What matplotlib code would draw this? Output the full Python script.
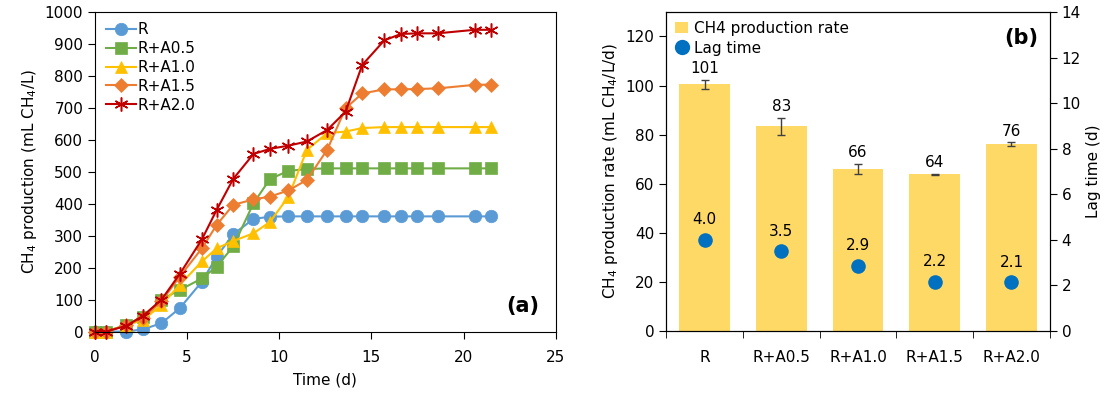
import numpy as np
import matplotlib.pyplot as plt
from matplotlib.patches import Patch
from matplotlib.lines import Line2D

plt.rcParams['font.family'] = ['DejaVu Sans']
plt.rcParams['font.size'] = 11

# (a) cumulative CH4 production
days = [0, 0.6, 1.7, 2.6, 3.6, 4.6, 5.8, 6.6, 7.5, 8.6, 9.5, 10.5, 11.5,
        12.6, 13.6, 14.5, 15.7, 16.6, 17.5, 18.6, 20.6, 21.5]
r_0 = [0, 0, 0, 7, 26, 73, 156, 234, 304, 352, 359, 360, 360,
       360, 360, 360, 360, 360, 360, 360, 360, 360]
r_a05 = [0, 0, 21, 47, 100, 130, 166, 203, 266, 401, 477, 502, 508,
         510, 510, 510, 510, 510, 510, 510, 510, 510]
r_a10 = [0, 0, 20, 36, 83, 146, 219, 260, 283, 307, 343, 422, 568,
         620, 625, 636, 639, 639, 639, 639, 639, 639]
r_a15 = [0, 0, 20, 42, 94, 172, 260, 333, 396, 413, 422, 441, 474,
         568, 698, 744, 757, 757, 758, 760, 771, 772]
r_a20 = [0, 0, 18, 49, 99, 180, 288, 380, 477, 555, 571, 581, 594,
         630, 687, 833, 910, 930, 932, 932, 943, 943]
series_names = ['R', 'R+A0.5', 'R+A1.0', 'R+A1.5', 'R+A2.0']

# (b) rate and lag time
groups = ['R', 'R+A0.5', 'R+A1.0', 'R+A1.5', 'R+A2.0']
rate = [100.5, 83.3, 65.9, 63.8, 76.1]
rate_err = [1.8, 3.5, 2.1, 0.2, 0.7]
rate_lbl = ['101', '83', '66', '64', '76']
lag = [4.0, 3.5, 2.85, 2.15, 2.12]
lag_lbl = ['4.0', '3.5', '2.9', '2.2', '2.1']

fig = plt.figure(figsize=(11.18, 3.99), dpi=100)
ax1 = fig.add_axes([0.085, 0.169, 0.412, 0.802])
ax2 = fig.add_axes([0.596, 0.171, 0.343, 0.799])

styles = [('#5B9BD5', 'o', 9), ('#70AD47', 's', 8), ('#FFC000', '^', 9),
          ('#ED7D31', 'D', 7), ('#C00000', (6, 2, 0), 10)]
for y, name, (c, m, ms) in zip([r_0, r_a05, r_a10, r_a15, r_a20], series_names, styles):
    ax1.plot(days, y, color=c, marker=m, markersize=ms, lw=1.5, label=name,
             markeredgewidth=1.1 if name == 'R+A2.0' else 0.5, markeredgecolor=c,
             clip_on=False)

ax1.set_xlim(0, 25)
ax1.set_ylim(0, 1000)
ax1.set_xticks(range(0, 26, 5))
ax1.set_yticks(range(0, 1001, 100))
ax1.tick_params(direction='out', length=5)
ax1.tick_params(axis='x', pad=8)
ax1.set_xlabel('Time (d)', labelpad=6)
ax1.set_ylabel('CH$_4$ production (mL CH$_4$/L)')
ax1.legend(loc='upper left', frameon=False, handlelength=2.0, borderaxespad=0.3,
           labelspacing=0.25, handletextpad=0.1, fontsize=11)
ax1.text(0.965, 0.05, '(a)', transform=ax1.transAxes, ha='right', va='bottom',
         fontsize=15, fontweight='bold')

# (b)
x = np.arange(len(groups))
ax2.bar(x, rate, width=0.66, color='#FFD966', zorder=1)
ax2.errorbar(x, rate, yerr=rate_err, fmt='none', ecolor='#404040', elinewidth=1,
             capsize=3, zorder=2)
for xi, v, e, t in zip(x, rate, rate_err, rate_lbl):
    ax2.text(xi, v + e + 1.5, t, ha='center', va='bottom', fontsize=11)
ax2.set_xlim(-0.5, len(groups) - 0.5)
ax2.set_ylim(0, 130)
ax2.set_yticks(range(0, 121, 20))
ax2.set_xticks(x)
ax2.set_xticklabels(groups)
ax2.set_xticks(np.arange(-0.5, len(groups), 1), minor=True)
ax2.tick_params(axis='x', which='major', length=0, pad=14)
ax2.tick_params(axis='x', which='minor', length=5, direction='out')
ax2.tick_params(axis='y', direction='out', length=5)
ax2.set_ylabel('CH$_4$ production rate (mL CH$_4$/L/d)')

ax3 = ax2.twinx()
ax3.scatter(x, lag, s=90, color='#0070C0', zorder=3)
for xi, v, t in zip(x, lag, lag_lbl):
    ax3.text(xi, v + 0.55, t, ha='center', va='bottom', fontsize=11)
ax3.set_ylim(0, 14)
ax3.set_yticks(range(0, 15, 2))
ax3.tick_params(direction='out', length=5)
ax3.set_ylabel('Lag time (d)')
ax3.text(0.97, 0.95, '(b)', transform=ax3.transAxes, ha='right', va='top',
         fontsize=15, fontweight='bold')

handles = [Patch(facecolor='#FFD966', label='CH4 production rate'),
           Line2D([], [], marker='o', ls='none', color='#0070C0', markersize=10,
                  label='Lag time')]
ax3.legend(handles=handles, loc='upper left', frameon=False, borderaxespad=0.2,
           handlelength=0.8, handletextpad=0.4, labelspacing=0.3, fontsize=11)

fig.savefig('out.png', dpi=100)
